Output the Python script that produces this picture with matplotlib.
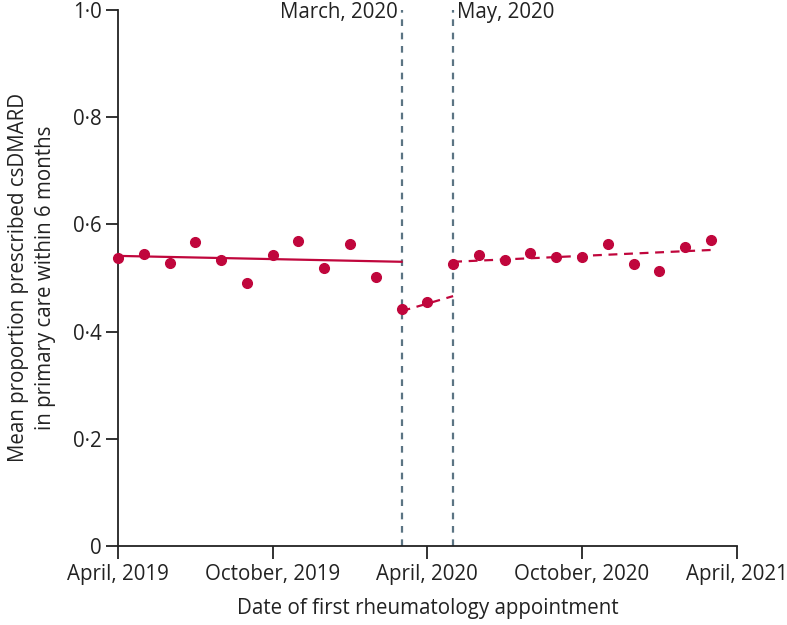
import matplotlib
matplotlib.use("Agg")
import matplotlib.pyplot as plt
import numpy as np

plt.rcParams['font.family'] = ['Open Sans', 'DejaVu Sans']

# months since April 2019
months = list(range(24))
values = [0.537, 0.545, 0.527, 0.567, 0.534, 0.491, 0.542, 0.569, 0.518, 0.564,
          0.501, 0.442, 0.455, 0.525, 0.542, 0.533, 0.546, 0.539, 0.539, 0.564,
          0.526, 0.513, 0.557, 0.571]

# fitted segments (start month, end month, start value, end value)
seg_pre = ([0, 11], [0.541, 0.530])
seg_mid = ([11, 13], [0.438, 0.466])
seg_post = ([13, 23], [0.530, 0.552])

xtick_pos = [0, 6, 12, 18, 24]
xtick_labels = ["April, 2019", "October, 2019", "April, 2020", "October, 2020", "April, 2021"]
ytick_pos = [0, 0.2, 0.4, 0.6, 0.8, 1.0]
ytick_labels = ["0", "0·2", "0·4", "0·6", "0·8", "1·0"]

event_pos = [11, 13]
event_labels = ["March, 2020", "May, 2020"]

red = "#c0063c"
vcol = "#5b7483"
txt = "#222222"
fs = 14.8

fig = plt.figure(figsize=(7.87, 6.25), dpi=100)
ax = fig.add_axes([0.150, 0.1264, 0.786, 0.858])

ax.axvline(event_pos[0], color=vcol, ls=(0, (3, 3)), lw=1.6, zorder=1)
ax.axvline(event_pos[1], color=vcol, ls=(0, (3, 3)), lw=1.6, zorder=1)
ax.text(event_pos[0] - 0.15, 0.995, event_labels[0], ha='right', va='center', fontsize=fs, color=txt)
ax.text(event_pos[1] + 0.15, 0.995, event_labels[1], ha='left', va='center', fontsize=fs, color=txt)

ax.plot(seg_pre[0], seg_pre[1], color=red, lw=1.6, zorder=2)
ax.plot(seg_mid[0], seg_mid[1], color=red, lw=1.6, ls=(0, (4, 3)), zorder=2)
ax.plot(seg_post[0], seg_post[1], color=red, lw=1.6, ls=(0, (4, 3)), zorder=2)
ax.plot(months, values, 'o', color=red, ms=7, zorder=3, clip_on=False)

ax.set_xlim(0, 24)
ax.set_ylim(0, 1.0)
ax.set_xticks(xtick_pos)
ax.set_xticklabels(xtick_labels, fontsize=fs)
ax.set_yticks(ytick_pos)
ax.set_yticklabels(ytick_labels, fontsize=fs)
for s in ['top', 'right']:
    ax.spines[s].set_visible(False)
for s in ['left', 'bottom']:
    ax.spines[s].set_linewidth(1.3)
    ax.spines[s].set_color(txt)
ax.tick_params(axis='both', length=9, width=1.3, color=txt, labelcolor=txt)
ax.tick_params(axis='x', pad=4)
ax.tick_params(axis='y', pad=3)
ax.set_xlabel("Date of first rheumatology appointment", fontsize=fs, color=txt, labelpad=9)
ax.set_ylabel("Mean proportion prescribed csDMARD\nin primary care within 6 months", fontsize=fs,
              color=txt, labelpad=12, linespacing=1.35)

fig.savefig("out.png", dpi=100)
